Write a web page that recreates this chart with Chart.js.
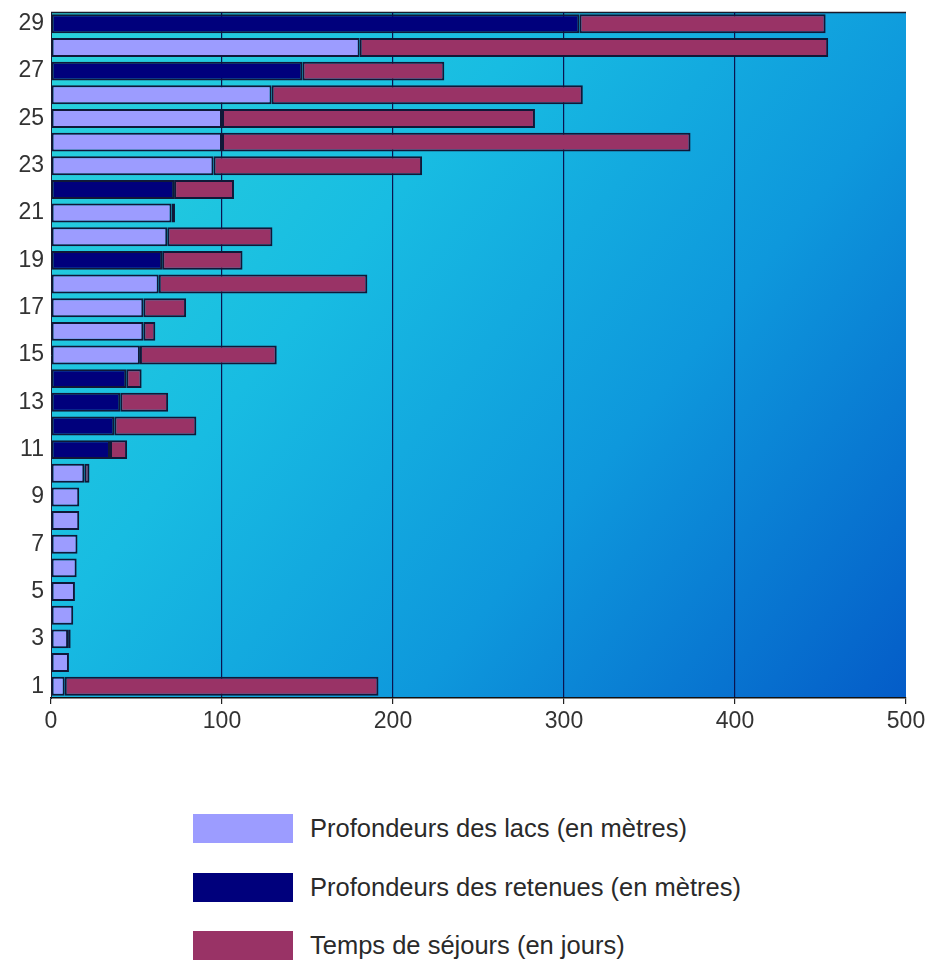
<!DOCTYPE html>
<html>
<head>
<meta charset="utf-8">
<script src="https://cdn.jsdelivr.net/npm/chart.js@4/dist/chart.umd.min.js"></script>
<style>
  html, body { margin: 0; padding: 0; background: #ffffff; }
  #wrap { position: relative; width: 930px; height: 970px; }
  #chartBox { position: absolute; left: 0; top: 0; width: 930px; height: 770px; }
  #legend { position: absolute; left: 193px; top: 814px; font-family: "Liberation Sans", Arial, sans-serif; font-size: 25.5px; color: #2a2a2a; }
  .item { display: flex; align-items: center; height: 29px; margin-bottom: 29.5px; }
  .swatch { width: 100px; height: 29px; margin-right: 17px; flex: none; }
</style>
</head>
<body>
<div id="wrap">
  <div id="chartBox"><canvas id="c" width="930" height="770"></canvas></div>
  <div id="legend"></div>
</div>
<script>
// Categories 1..29 (only odd ones are labelled on the axis)
const categories = Array.from({ length: 29 }, (_, i) => String(i + 1));

// Depth of natural lakes (m)
const lakeDepth = [8, 10.5, 10, 13, 14, 15, 15.5, 16.5, 16.5, 19.5,
  null, null, null, null, 52, 54, 54, 63, null, 68,
  70.5, null, 95, 100, 100, 129, null, 180.5, null];

// Depth of reservoirs (m)
const reservoirDepth = [null, null, null, null, null, null, null, null, null, null,
  34.5, 37, 40.5, 44, null, null, null, null, 65, null,
  null, 72, null, null, null, null, 147, null, 309];

// Residence time (days)
const residenceTime = [183.5, null, 1.5, null, null, null, null, null, null, 3,
  10, 48, 28, 9, 80, 7, 25, 122, 47, 61.5,
  2, 35, 122, 274, 183, 182, 83, 274, 144];

const xTicks = [0, 100, 200, 300, 400, 500];

const seriesNames = [
  'Profondeurs des lacs (en mètres)',
  'Profondeurs des retenues (en mètres)',
  'Temps de séjours (en jours)'
];
const seriesColors = ['#9c9cff', '#00007c', '#993366'];

const FONT = '"Liberation Sans", Arial, sans-serif';

// Gradient backdrop and top frame line of the plot area
const plotBackdrop = {
  id: 'plotBackdrop',
  beforeDraw(chart) {
    const { ctx, chartArea: a } = chart;
    const g = ctx.createLinearGradient(a.left, a.top, a.right, a.bottom);
    g.addColorStop(0, '#2ad4dc');
    g.addColorStop(0.35, '#18bce2');
    g.addColorStop(0.65, '#0e98dc');
    g.addColorStop(1, '#045cc8');
    ctx.save();
    ctx.fillStyle = g;
    ctx.fillRect(a.left, a.top, a.right - a.left, a.bottom - a.top);
    ctx.strokeStyle = '#1a1a2a';
    ctx.lineWidth = 1.5;
    ctx.beginPath();
    ctx.moveTo(a.left, a.top + 0.5);
    ctx.lineTo(a.right, a.top + 0.5);
    ctx.stroke();
    ctx.restore();
  }
};

const datasets = [lakeDepth, reservoirDepth, residenceTime].map((vals, i) => ({
  label: seriesNames[i],
  data: vals,
  backgroundColor: seriesColors[i],
  borderColor: '#101838',
  borderWidth: 2,
  borderSkipped: false,
  barPercentage: 0.8,
  categoryPercentage: 1.0
}));

const chart = new Chart(document.getElementById('c'), {
  type: 'bar',
  data: { labels: categories, datasets },
  options: {
    indexAxis: 'y',
    responsive: false,
    animation: false,
    layout: { padding: { top: 12, right: 24, left: 0, bottom: 0 } },
    plugins: { legend: { display: false }, tooltip: { enabled: false } },
    scales: {
      x: {
        stacked: true,
        min: xTicks[0],
        max: xTicks[xTicks.length - 1],
        afterBuildTicks(scale) { scale.ticks = xTicks.map(v => ({ value: v })); },
        afterFit(scale) { scale.height = 72; },
        grid: {
          color: ctx => (ctx.tick && ctx.tick.value > 0 && ctx.tick.value < 500) ? '#0a1450' : 'rgba(0,0,0,0)',
          lineWidth: 1.2,
          tickLength: 6,
          tickColor: '#222',
          drawOnChartArea: true
        },
        border: { display: true, color: '#111', width: 1.5 },
        ticks: { color: '#333', font: { family: FONT, size: 23 }, padding: 4 }
      },
      y: {
        stacked: true,
        reverse: true,
        afterFit(scale) {
          scale.width = 51;
          scale.paddingTop = 0;
          scale.paddingBottom = 0;
        },
        grid: { display: false, drawTicks: false },
        border: { display: true, color: '#1a1a2a', width: 1 },
        ticks: {
          autoSkip: false,
          color: '#333',
          font: { family: FONT, size: 23 },
          padding: 7,
          callback(value, index) { return index % 2 === 0 ? categories[index] : ''; }
        }
      }
    }
  },
  plugins: [plotBackdrop]
});

// Vertical legend built from the chart's datasets
const legendEl = document.getElementById('legend');
chart.data.datasets.forEach(ds => {
  const row = document.createElement('div');
  row.className = 'item';
  const sw = document.createElement('div');
  sw.className = 'swatch';
  sw.style.background = ds.backgroundColor;
  const tx = document.createElement('span');
  tx.textContent = ds.label;
  row.appendChild(sw);
  row.appendChild(tx);
  legendEl.appendChild(row);
});
</script>
</body>
</html>
